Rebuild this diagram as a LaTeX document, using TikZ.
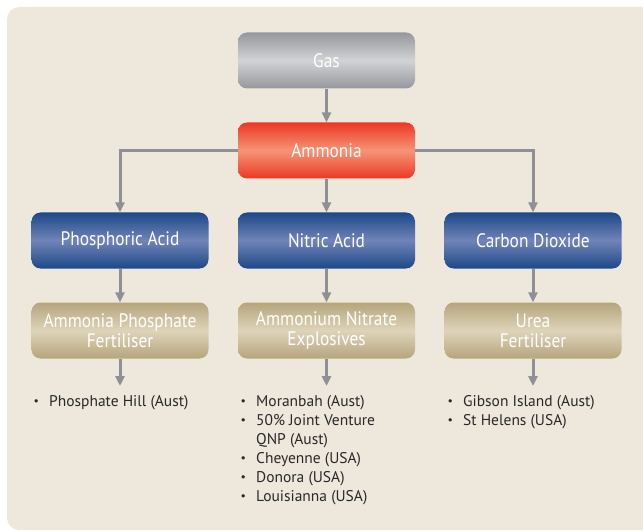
\documentclass[tikz,border=0pt]{standalone}
\usepackage{fontspec}
\setmainfont{PT Sans}
\newfontfamily\boxfont[FakeStretch=0.89]{PT Sans}
\usetikzlibrary{arrows.meta}
\definecolor{panel}{RGB}{238,232,220}
\definecolor{arrowgrey}{RGB}{142,144,150}
\definecolor{greyedge}{RGB}{150,151,156}
\definecolor{greymid}{RGB}{210,211,213}
\definecolor{rededge}{RGB}{236,56,36}
\definecolor{redmid}{RGB}{245,148,118}
\definecolor{blueedge}{RGB}{28,72,136}
\definecolor{bluemid}{RGB}{112,132,184}
\definecolor{tanedge}{RGB}{182,165,124}
\definecolor{tanmid}{RGB}{222,212,186}
\definecolor{listtext}{RGB}{40,40,40}
\tikzset{
  box/.style={rectangle, rounded corners=9pt, minimum width=177pt, minimum height=56pt,
    text=white, font=\boxfont\fontsize{19.5}{20}\selectfont, align=center, inner sep=2pt},
  greybox/.style={box, top color=greyedge, bottom color=greyedge, middle color=greymid},
  redbox/.style={box, top color=rededge, bottom color=rededge, middle color=redmid},
  bluebox/.style={box, top color=blueedge, bottom color=blueedge, middle color=bluemid},
  tanbox/.style={box, top color=tanedge, bottom color=tanedge, middle color=tanmid},
  conn/.style={draw=arrowgrey, line width=3pt, -{Triangle[width=9pt,length=10pt]}},
  listnode/.style={anchor=north west, inner sep=0pt, text=listtext, font=\fontsize{15.5}{19}\selectfont, align=left}
}
\newcommand{\blt}{\makebox[15pt][l]{\raisebox{2.8pt}{\scalebox{0.6}{$\bullet$}}}}
\begin{document}
\begin{tikzpicture}[x=1pt,y=-1pt]
\useasboundingbox (0,0) rectangle (643,532);
\begin{scope}
\clip (0,0) rectangle (643,532);
\fill[panel, rounded corners=12pt] (7,7) rectangle (670,530);
\end{scope}

\node[greybox] (gas) at (326.5,60.5) {\raisebox{-1.5pt}{Gas}};
\node[redbox] (amm) at (326.5,150.5) {\raisebox{-1.5pt}{Ammonia}};
\node[bluebox] (phos) at (120,240.5) {\raisebox{-1.5pt}{Phosphoric Acid}};
\node[bluebox] (nitric) at (326.5,240.5) {\raisebox{-1.5pt}{Nitric Acid}};
\node[bluebox] (co2) at (533,240.5) {\raisebox{-1.5pt}{Carbon Dioxide}};
\node[tanbox] (apf) at (120,330.5) {Ammonia Phosphate\\Fertiliser};
\node[tanbox] (ane) at (326.5,330.5) {Ammonium Nitrate\\Explosives};
\node[tanbox] (urea) at (533,330.5) {Urea\\Fertiliser};

\coordinate (e1) at (120,386);
\coordinate (e2) at (326.5,386);
\coordinate (e3) at (533,386);

\draw[conn] (gas) -- (amm);
\draw[conn] (amm.west) -| (phos.north);
\draw[conn] (amm) -- (nitric);
\draw[conn] (amm.east) -| (co2.north);
\draw[conn] (phos) -- (apf);
\draw[conn] (nitric) -- (ane);
\draw[conn] (co2) -- (urea);
\draw[conn] (apf) -- (e1);
\draw[conn] (ane) -- (e2);
\draw[conn] (urea) -- (e3);

\node[listnode] (l1) at (34,395) {\blt Phosphate Hill (Aust)};
\node[listnode] (l2) at (241,395) {\blt Moranbah (Aust)\\ \blt 50\% Joint Venture\\ \hspace*{15pt}QNP (Aust)\\ \blt Cheyenne (USA)\\ \blt Donora (USA)\\ \blt Louisianna (USA)};
\node[listnode] (l3) at (448,395) {\blt Gibson Island (Aust)\\ \blt St Helens (USA)};
\end{tikzpicture}
\end{document}
